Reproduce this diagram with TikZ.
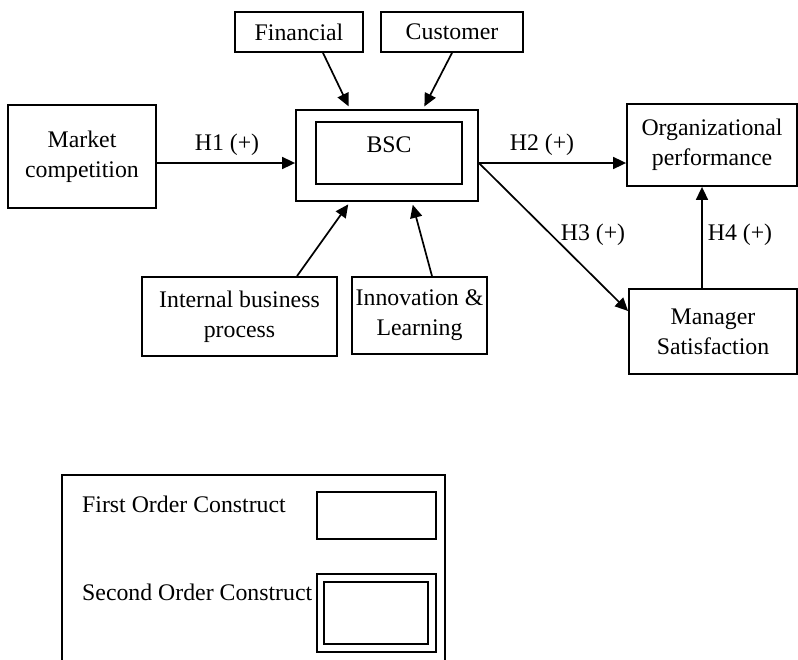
\documentclass[tikz,border=0pt]{standalone}
\usepackage{fontspec}
\setmainfont{Liberation Serif}
\usetikzlibrary{arrows.meta}
\begin{document}
\begin{tikzpicture}[x=1pt,y=-1pt,
  every node/.style={font=\fontsize{23.8}{30}\selectfont, inner sep=0pt},
  box/.style={draw, line width=1.8pt, rectangle, align=center},
  lbl/.style={},
  arr/.style={line width=1.7pt, -{Triangle[length=13pt,width=12pt]}}]
\useasboundingbox (0,0) rectangle (798,659);
% boxes
\node[box, minimum width=148pt, minimum height=103pt] (market) at (82,156.5) {Market\\competition};
\node[box, minimum width=128pt, minimum height=40pt] (fin) at (299,32) {Financial};
\node[box, minimum width=142pt, minimum height=40pt] (cust) at (452,32) {Customer};
\node[box, minimum width=182pt, minimum height=91pt] (bscout) at (387,155.5) {};
\node[box, minimum width=146pt, minimum height=62pt] (bscin) at (389,153) {};
\node (bsctext) at (389,145) {BSC};
\node[box, minimum width=170pt, minimum height=82pt] (org) at (712,145) {Organizational\\performance};
\node[box, minimum width=168pt, minimum height=85pt] (mgr) at (713,331.5) {Manager\\Satisfaction};
\node[box, minimum width=195pt, minimum height=79pt] (ibp) at (239.5,316.5) {Internal business\\process};
\node[box, minimum width=135pt, minimum height=77pt] (innov) at (419.5,315.5) {Innovation \&\\Learning};
% arrows
\draw[arr] ([yshift=-6.5pt]market.east) -- ([yshift=-7.5pt]bscout.west);
\coordinate (h2s) at ([yshift=-7.5pt]bscout.east);
\draw[arr] (h2s) -- (h2s -| org.west);
\draw[arr] (h2s) -- ([yshift=20.5pt]mgr.west);
\coordinate (h4s) at ([xshift=-11pt]mgr.north);
\draw[arr] (h4s) -- (h4s |- org.south);
\draw[arr, shorten >=3pt] ([xshift=24pt]fin.south) -- ([xshift=-37pt]bscout.north);
\draw[arr, shorten >=3pt] (cust.south) -- ([xshift=36pt]bscout.north);
\draw[arr, shorten >=3pt] ([xshift=57.5pt]ibp.north) -- ([xshift=-37pt]bscout.south);
\draw[arr, shorten >=3pt] ([xshift=12.5pt]innov.north) -- ([xshift=25pt]bscout.south);
% labels
\node[lbl] (h1) at (227,145) {H1 (+)};
\node[lbl] (h2) at (542,145) {H2 (+)};
\node[lbl] (h3) at (593,235) {H3 (+)};
\node[lbl] (h4) at (740,235) {H4 (+)};
% legend
\draw[line width=1.4pt] (62,660) -- (62,475) -- (445,475) -- (445,660);
\node[anchor=base west] (t1) at (82,512) {First Order Construct};
\node[anchor=base west] (t2) at (82,600) {Second Order Construct};
\node[box, minimum width=119pt, minimum height=47pt] (l1) at (376.5,515.5) {};
\node[box, line width=1.4pt, minimum width=119pt, minimum height=78pt] (l2o) at (376.5,613) {};
\node[box, minimum width=104pt, minimum height=62pt] (l2i) at (376,613) {};
\end{tikzpicture}
\end{document}
